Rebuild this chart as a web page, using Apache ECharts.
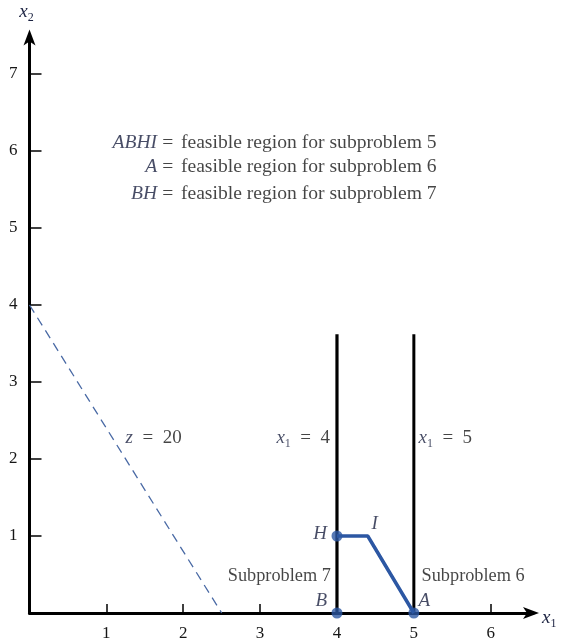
<!DOCTYPE html>
<html><head><meta charset="utf-8">
<script src="https://cdn.jsdelivr.net/npm/echarts@6/dist/echarts.min.js"></script>
<style>html,body{margin:0;padding:0;background:#fff}#c{width:562px;height:639px}</style>
</head><body><div id="c"></div>
<script>
const xTicks = [1, 2, 3, 4, 5, 6];
const yTicks = [1, 2, 3, 4, 5, 6, 7];
const zLine = [[0, 4], [2.5, 0]];
const x4Line = [[4, 0], [4, 3.62]];
const x5Line = [[5, 0], [5, 3.62]];
const regionPath = [[4, 1], [4.4, 1], [5, 0]];
const cornerPoints = [[4, 0], [4, 1], [5, 0]];
const pointLabels = [
  {t: '{it|B}', x: 3.87, y: 0.15, align: 'right'},
  {t: '{it|H}', x: 3.87, y: 1.02, align: 'right'},
  {t: '{it|I}', x: 4.45, y: 1.15, align: 'left'},
  {t: '{it|A}', x: 5.06, y: 0.15, align: 'left'}
];
const textLabels = [
  {t: '{it|z}{n|\u2002=\u200220}', x: 1.25, y: 2.27, align: 'left'},
  {t: '{it|x}{sub|1}{n|\u2002=\u20024}', x: 3.91, y: 2.27, align: 'right'},
  {t: '{it|x}{sub|1}{n|\u2002=\u20025}', x: 5.06, y: 2.27, align: 'left'},
  {t: '{s|Subproblem 7}', x: 3.92, y: 0.48, align: 'right'},
  {t: '{s|Subproblem 6}', x: 5.1, y: 0.48, align: 'left'}
];
const legendLeft = ['ABHI', 'A', 'BH'];
const legendRight = ['feasible region for subproblem 5', 'feasible region for subproblem 6', 'feasible region for subproblem 7'];
const legendY = [6.10, 5.79, 5.45];

const FONT = '"Liberation Serif", "DejaVu Serif", serif';
const TXT = '#161616';
const ITC = '#1a2140';
const rich = {
  it: {fontStyle: 'italic', fontFamily: FONT, fontSize: 19, color: ITC},
  sub: {fontFamily: FONT, fontSize: 12, color: ITC, verticalAlign: 'bottom', padding: [11, 0, 0, 0]},
  n: {fontFamily: FONT, fontSize: 19, color: TXT},
  s: {fontFamily: FONT, fontSize: 18.3, color: TXT},
  lg: {fontFamily: FONT, fontSize: 19.6, color: TXT},
  lgi: {fontStyle: 'italic', fontFamily: FONT, fontSize: 19.6, color: ITC}
};

const annData = [];
pointLabels.concat(textLabels).forEach(a => annData.push({value: [a.x, a.y], label: {formatter: a.t, align: a.align}}));
legendLeft.forEach((s, i) => {
  annData.push({value: [1.66, legendY[i]], label: {formatter: '{lgi|' + s + '}', align: 'right'}});
  annData.push({value: [1.80, legendY[i]], label: {formatter: '{lg|=}', align: 'center'}});
  annData.push({value: [1.97, legendY[i]], label: {formatter: '{lg|' + legendRight[i] + '}', align: 'left'}});
});

const chart = echarts.init(document.getElementById('c'));
const BLUE = '#2c57a3';
chart.setOption({
  animation: false,
  grid: {left: 29.5, right: 29, top: 35.5, bottom: 26, containLabel: false, outerBoundsMode: 'none'},
  xAxis: {
    type: 'value', min: 0, max: 6.55, interval: 1,
    name: '{it|x}{sub|1}', nameLocation: 'end', nameGap: 9,
    nameTextStyle: {rich: rich, padding: [10, 0, 0, 0]},
    axisLine: {onZero: false, lineStyle: {color: '#000', width: 3}, symbol: ['none', 'arrow'], symbolSize: [9, 16], symbolOffset: [0, 6]},
    axisTick: {inside: true, length: 9, lineStyle: {color: '#000', width: 1.5}, customValues: xTicks},
    axisLabel: {customValues: xTicks, fontFamily: FONT, fontSize: 17, color: TXT, margin: 12},
    splitLine: {show: false}
  },
  yAxis: {
    type: 'value', min: 0, max: 7.5, interval: 1,
    name: '{it|x}{sub|2}', nameLocation: 'end', nameGap: 12,
    nameTextStyle: {rich: rich, align: 'center', padding: [0, 6, 0, 0]},
    axisLine: {onZero: false, lineStyle: {color: '#000', width: 3}, symbol: ['none', 'arrow'], symbolSize: [9, 16], symbolOffset: [0, 6]},
    axisTick: {inside: true, length: 12, lineStyle: {color: '#000', width: 1.5}, customValues: yTicks},
    axisLabel: {customValues: yTicks, fontFamily: FONT, fontSize: 17, color: TXT, margin: 12},
    splitLine: {show: false}
  },
  series: [
    {type: 'line', data: zLine, symbol: 'none', lineStyle: {color: '#4a6aa5', width: 1.3, type: [9, 6]}},
    {type: 'line', data: x4Line, symbol: 'none', lineStyle: {color: '#000', width: 3.2}},
    {type: 'line', data: x5Line, symbol: 'none', lineStyle: {color: '#000', width: 3}},
    {type: 'line', data: regionPath, symbol: 'none', lineStyle: {color: BLUE, width: 3.5}, z: 3},
    {type: 'scatter', data: cornerPoints, symbolSize: 11, itemStyle: {color: BLUE}, z: 4},
    {type: 'scatter', data: annData, symbolSize: 0, silent: true, z: 5,
     label: {show: true, position: 'inside', verticalAlign: 'middle', fontFamily: FONT, fontSize: 17, color: TXT, textBorderWidth: 0, rich: rich}}
  ]
});
</script></body></html>
